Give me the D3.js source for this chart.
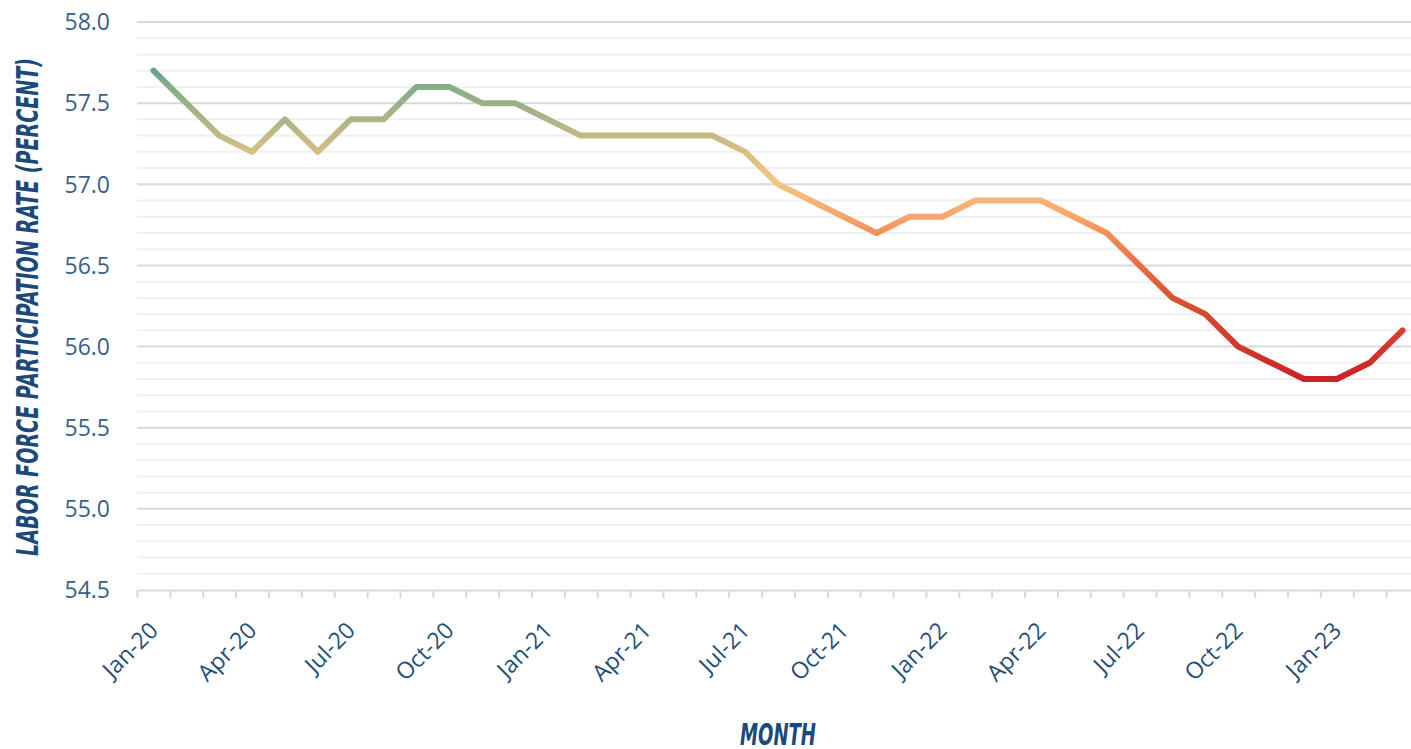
<!DOCTYPE html>
<html>
<head>
<meta charset="utf-8">
<script src="https://cdn.jsdelivr.net/npm/d3@7"></script>
<style>
  html, body { margin: 0; padding: 0; background: #fff; }
  svg { display: block; }
</style>
</head>
<body>
<div id="chart"></div>
<script>
var width = 1411;
var height = 749;

// monthly labor force participation rate
var months = [
  "Jan-20", "Feb-20", "Mar-20", "Apr-20", "May-20", "Jun-20", "Jul-20", "Aug-20", "Sep-20", "Oct-20", "Nov-20", "Dec-20",
  "Jan-21", "Feb-21", "Mar-21", "Apr-21", "May-21", "Jun-21", "Jul-21", "Aug-21", "Sep-21", "Oct-21", "Nov-21", "Dec-21",
  "Jan-22", "Feb-22", "Mar-22", "Apr-22", "May-22", "Jun-22", "Jul-22", "Aug-22", "Sep-22", "Oct-22", "Nov-22", "Dec-22",
  "Jan-23", "Feb-23", "Mar-23"
];
var rates = [
  57.7, 57.5, 57.3, 57.2, 57.4, 57.2, 57.4, 57.4, 57.6, 57.6, 57.5, 57.5,
  57.4, 57.3, 57.3, 57.3, 57.3, 57.3, 57.2, 57.0, 56.9, 56.8, 56.7, 56.8,
  56.8, 56.9, 56.9, 56.9, 56.8, 56.7, 56.5, 56.3, 56.2, 56.0, 55.9, 55.8,
  55.8, 55.9, 56.1
];
var yTicks = [54.5, 55.0, 55.5, 56.0, 56.5, 57.0, 57.5, 58.0];
var labelEvery = 3;

// colour ramp by value (high = green, low = red)
var colorStops = [
  [57.7, "#67a487"],
  [57.6, "#84ae88"],
  [57.4, "#adb486"],
  [57.3, "#c4b985"],
  [57.2, "#d6bf83"],
  [57.0, "#f4c583"],
  [56.9, "#f8b577"],
  [56.8, "#f6a56b"],
  [56.7, "#f2905a"],
  [56.5, "#e66f40"],
  [56.3, "#da5431"],
  [56.2, "#d6492d"],
  [56.0, "#d2382a"],
  [55.8, "#ce2027"]
];

var margin = {left: 137, right: 1419, top: 22, bottom: 590};

var data = months.map((m, i) => ({month: m, value: rates[i]}));

var svg = d3.select("#chart")
  .append("svg")
  .attr("width", width)
  .attr("height", height);

var x = d3.scaleBand()
  .domain(months)
  .range([margin.left, margin.right])
  .padding(0);

var y = d3.scaleLinear()
  .domain([54.5, 58.0])
  .range([margin.bottom, margin.top]);

// gradient along the y axis
var grad = svg.append("defs")
  .append("linearGradient")
  .attr("id", "lineGrad")
  .attr("gradientUnits", "userSpaceOnUse")
  .attr("x1", 0).attr("x2", 0)
  .attr("y1", y(colorStops[0][0]))
  .attr("y2", y(colorStops[colorStops.length - 1][0]));

var gTop = y(colorStops[0][0]);
var gBot = y(colorStops[colorStops.length - 1][0]);
grad.selectAll("stop")
  .data(colorStops)
  .join("stop")
  .attr("offset", d => (y(d[0]) - gTop) / (gBot - gTop))
  .attr("stop-color", d => d[1]);

// minor gridlines
var minor = d3.range(545, 581).map(v => v / 10).filter(v => Math.round(v * 10) % 5 !== 0);
svg.append("g")
  .selectAll("line")
  .data(minor)
  .join("line")
  .attr("x1", margin.left)
  .attr("x2", margin.right)
  .attr("y1", d => y(d))
  .attr("y2", d => y(d))
  .attr("stroke", "#f0f0f0")
  .attr("stroke-width", 2);

// major gridlines
svg.append("g")
  .selectAll("line")
  .data(yTicks.slice(1))
  .join("line")
  .attr("x1", margin.left)
  .attr("x2", margin.right)
  .attr("y1", d => y(d))
  .attr("y2", d => y(d))
  .attr("stroke", "#d9d9d9")
  .attr("stroke-width", 2);

// y tick labels
svg.append("g")
  .selectAll("text")
  .data(yTicks)
  .join("text")
  .attr("x", 110)
  .attr("y", d => y(d))
  .attr("dy", "0.36em")
  .attr("text-anchor", "end")
  .attr("fill", "#3a5f88")
  .style("font-family", "'Open Sans', sans-serif")
  .style("font-size", "23px")
  .text(d => d.toFixed(1));

// x axis line with ticks on month boundaries
var xIdx = d3.scaleLinear().domain([0, months.length]).range([margin.left, margin.right]);
var xAxis = svg.append("g")
  .attr("transform", "translate(0," + margin.bottom + ")")
  .call(d3.axisBottom(xIdx)
    .tickValues(d3.range(0, months.length))
    .tickSize(8)
    .tickSizeOuter(0)
    .tickFormat(""));
xAxis.select(".domain").attr("stroke", "#d9d9d9").attr("stroke-width", 2);
xAxis.selectAll(".tick line").attr("stroke", "#d9d9d9").attr("stroke-width", 2);

// x labels, every third month
var labelAxis = svg.append("g")
  .attr("transform", "translate(0," + margin.bottom + ")")
  .call(d3.axisBottom(x)
    .tickValues(months.filter((m, i) => i % labelEvery === 0))
    .tickSize(0));
labelAxis.select(".domain").remove();
labelAxis.selectAll(".tick text")
  .attr("fill", "#1f4e79")
  .style("font-family", "'Open Sans', sans-serif")
  .style("font-size", "23px")
  .attr("text-anchor", "end")
  .attr("dy", 0)
  .attr("y", 0)
  .attr("transform", "translate(6,42) rotate(-45)");

// the line
var line = d3.line()
  .x(d => x(d.month) + x.bandwidth() / 2)
  .y(d => y(d.value));

svg.append("path")
  .datum(data)
  .attr("d", line)
  .attr("fill", "none")
  .attr("stroke", "url(#lineGrad)")
  .attr("stroke-width", 6)
  .attr("stroke-linejoin", "round")
  .attr("stroke-linecap", "round");

// axis titles
var titleFont = "'Liberation Sans Narrow', 'DejaVu Sans Condensed', sans-serif";

svg.append("text")
  .attr("transform", "translate(38,307) rotate(-90)")
  .attr("text-anchor", "middle")
  .attr("fill", "#1b4a7a")
  .attr("textLength", 498)
  .attr("lengthAdjust", "spacingAndGlyphs")
  .style("font-family", titleFont)
  .style("font-weight", "bold")
  .style("font-style", "italic")
  .style("font-size", "30px")
  .text("LABOR FORCE PARTICIPATION RATE (PERCENT)");

svg.append("text")
  .attr("x", 778)
  .attr("y", 745)
  .attr("text-anchor", "middle")
  .attr("fill", "#1b4a7a")
  .attr("textLength", 76)
  .attr("lengthAdjust", "spacingAndGlyphs")
  .style("font-family", titleFont)
  .style("font-weight", "bold")
  .style("font-style", "italic")
  .style("font-size", "30px")
  .text("MONTH");
</script>
</body>
</html>
